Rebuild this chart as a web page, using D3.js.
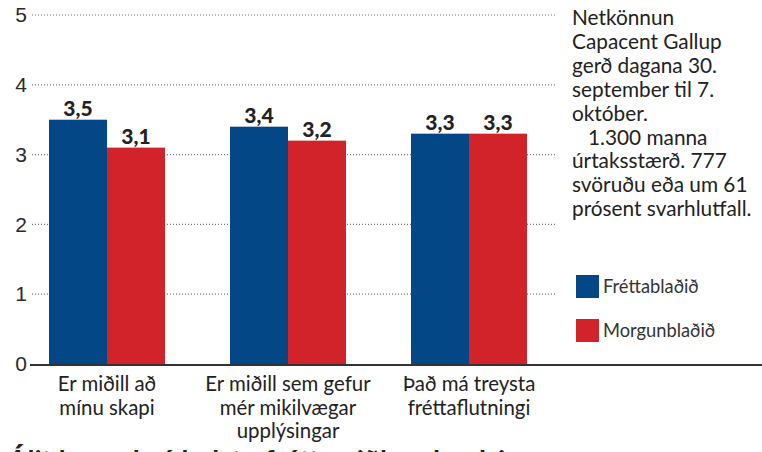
<!DOCTYPE html>
<html>
<head>
<meta charset="utf-8">
<script src="https://cdn.jsdelivr.net/npm/d3@7"></script>
<style>
  body { margin: 0; background: #fff; }
  svg { display: block; font-family: Lato, "Noto Sans", sans-serif; }
</style>
</head>
<body>
<div id="chart"></div>
<script>
const categories = [
  ['Er miðill að', 'mínu skapi'],
  ['Er miðill sem gefur', 'mér mikilvægar', 'upplýsingar'],
  ['Það má treysta', 'fréttaflutningi']
];
const series = ['Fréttablaðið', 'Morgunblaðið'];
const frettabladid = [3.5, 3.4, 3.3];
const morgunbladid = [3.1, 3.2, 3.3];
const yTicks = [0, 1, 2, 3, 4, 5];
const note = [
  'Netkönnun',
  'Capacent Gallup',
  'gerð dagana 30.',
  'september til 7.',
  'október.',
  '   1.300 manna',
  'úrtaksstærð. 777',
  'svöruðu eða um 61',
  'prósent svarhlutfall.'
];
const footer = 'Álit lesenda á helstu fréttamiðlum landsins';

const width = 762;
const height = 452;
const colors = ['#034787', '#d2232a'];

const svg = d3.select('#chart')
  .append('svg')
  .attr('width', width)
  .attr('height', height)

const rows = categories.map((c, i) => ({ key: i, lines: c, values: [frettabladid[i], morgunbladid[i]] }))

const y = d3.scaleLinear()
  .domain([0, 5])
  .range([364, 15])

const x0 = d3.scaleBand()
  .domain(rows.map(d => d.key))
  .range([16.5, 559.5])

const x1 = d3.scaleBand()
  .domain(series)
  .range([x0.bandwidth() / 2 - 58, x0.bandwidth() / 2 + 58])

// y axis labels
const yAxis = d3.axisLeft(y)
  .tickValues(yTicks)
  .tickFormat(d3.format('d'))
  .tickSize(0)

const gAxis = svg.append('g')
  .attr('transform', 'translate(32, 0)')
  .call(yAxis)

gAxis.select('.domain').remove()
gAxis.selectAll('text')
  .style('font-size', '21px')
  .style('fill', '#2a2a2a')
  .attr('x', -5)

// dotted gridlines
svg.append('g')
  .selectAll('line')
  .data(yTicks.filter(d => d > 0))
  .join('line')
  .attr('x1', 32)
  .attr('x2', 555)
  .attr('y1', d => y(d))
  .attr('y2', d => y(d))
  .style('stroke', '#777')
  .style('stroke-width', 1.2)
  .style('stroke-dasharray', '1,2')

// bars
const groups = svg.append('g')
  .selectAll('g')
  .data(rows)
  .join('g')
  .attr('transform', d => `translate(${x0(d.key)}, 0)`)

groups.selectAll('rect')
  .data(d => d.values.map((v, i) => ({ s: series[i], v: v, i: i })))
  .join('rect')
  .attr('x', d => x1(d.s))
  .attr('y', d => y(d.v))
  .attr('width', x1.bandwidth())
  .attr('height', d => y(0) - y(d.v))
  .style('fill', d => colors[d.i])

groups.selectAll('text.value')
  .data(d => d.values.map((v, i) => ({ s: series[i], v: v, i: i })))
  .join('text')
  .attr('class', 'value')
  .attr('x', d => x1(d.s) + x1.bandwidth() / 2)
  .attr('y', d => y(d.v) - 4)
  .style('text-anchor', 'middle')
  .style('font-size', '21px')
  .style('font-weight', '900')
  .style('fill', '#222')
  .text(d => d3.format('.1f')(d.v).replace('.', ','))

// category labels
groups.append('text')
  .attr('x', x0.bandwidth() / 2)
  .attr('y', 391)
  .style('text-anchor', 'middle')
  .style('font-size', '20.4px')
  .style('fill', '#222')
  .selectAll('tspan')
  .data(d => d.lines)
  .join('tspan')
  .attr('x', x0.bandwidth() / 2)
  .attr('dy', (d, i) => i ? 23.5 : 0)
  .text(d => d)

// baseline
svg.append('line')
  .attr('x1', 30)
  .attr('x2', width)
  .attr('y1', y(0) + 1)
  .attr('y2', y(0) + 1)
  .style('stroke', '#333')
  .style('stroke-width', 2)

// note on the right
svg.append('text')
  .attr('x', 572)
  .attr('y', 25)
  .style('font-size', '20.8px')
  .style('fill', '#222')
  .style('white-space', 'pre')
  .selectAll('tspan')
  .data(note)
  .join('tspan')
  .attr('x', 572)
  .attr('dy', (d, i) => i ? 23.9 : 0)
  .text(d => d)

// legend
const legend = svg.selectAll('.legend')
  .data(series)
  .join('g')
  .attr('class', 'legend')
  .attr('transform', (d, i) => `translate(576, ${275 + i * 44})`)

legend.append('rect')
  .attr('width', 23)
  .attr('height', 23)
  .style('fill', (d, i) => colors[i])

legend.append('text')
  .attr('x', 27)
  .attr('y', 18)
  .style('font-size', '18.3px')
  .style('fill', '#333')
  .text(d => d)

// next heading, cut off by the frame as in the source page
svg.append('text')
  .attr('x', 8)
  .attr('y', 471)
  .style('font-size', '28px')
  .style('font-weight', 'bold')
  .style('fill', '#222')
  .text(footer)
</script>
</body>
</html>
